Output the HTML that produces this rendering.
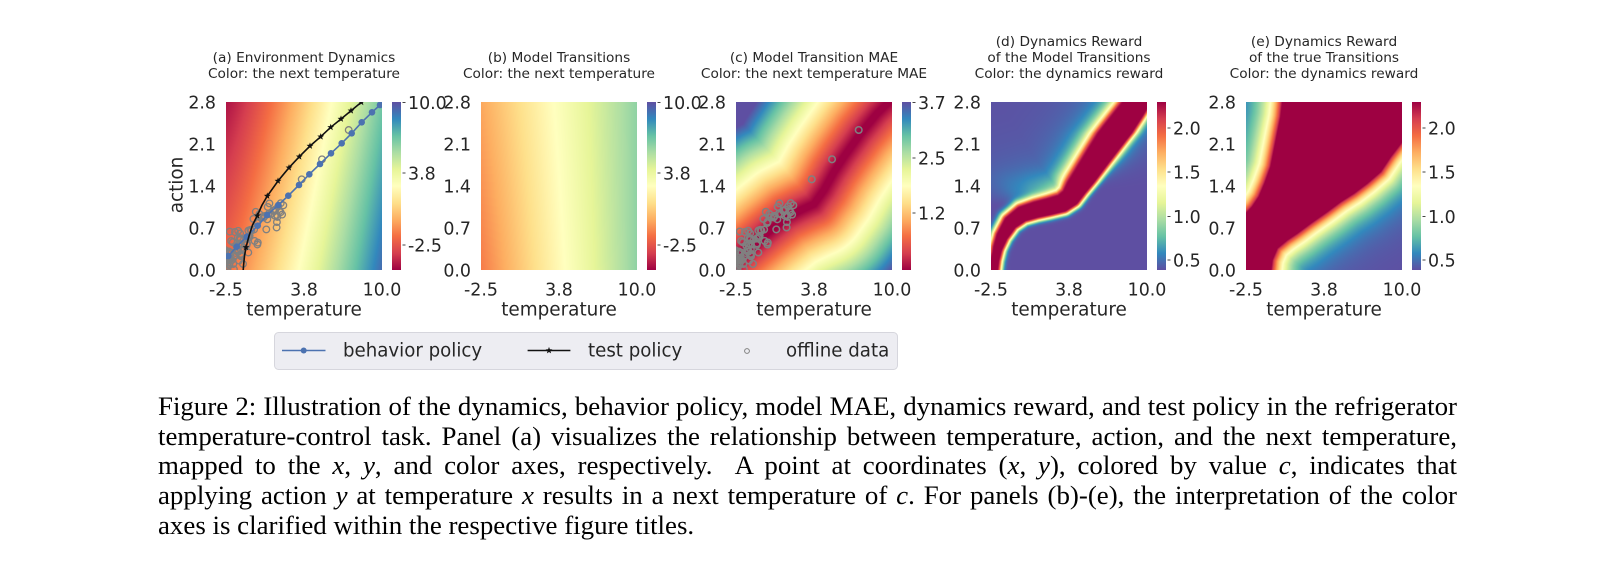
<!DOCTYPE html>
<html>
<head>
<meta charset="utf-8">
<style>
html,body{margin:0;padding:0;background:#fff;}
body{width:1618px;height:563px;position:relative;overflow:hidden;}
canvas.hm{position:absolute;top:102px;width:156px;height:168px;}
.cb{position:absolute;top:102px;width:8.5px;height:168px;}
.cbs{background:linear-gradient(to top,#9e0142 0%,#d53e4f 10%,#f46d43 20%,#fdae61 30%,#fee08b 40%,#ffffbf 50%,#e6f598 60%,#abdda4 70%,#66c2a5 80%,#3288bd 90%,#5e4fa2 100%);}
.cbr{background:linear-gradient(to bottom,#9e0142 0%,#d53e4f 10%,#f46d43 20%,#fdae61 30%,#fee08b 40%,#ffffbf 50%,#e6f598 60%,#abdda4 70%,#66c2a5 80%,#3288bd 90%,#5e4fa2 100%);}
svg.main{position:absolute;left:0;top:0;}
.cap{position:absolute;left:158px;width:1299px;height:29.6px;font-family:"Liberation Serif","Times New Roman",serif;font-size:26.9px;line-height:29.6px;color:#000;white-space:nowrap;}
.j{text-align:justify;text-align-last:justify;}
</style>
</head>
<body>

<canvas id="ca" class="hm" width="312" height="336" style="left:226px;background:linear-gradient(100deg,#b4194a 0%,#f46d43 20%,#fdae61 35%,#ffffbf 55%,#abdda4 75%,#3288bd 95%);"></canvas>
<canvas id="cbb" class="hm" width="312" height="336" style="left:481px;background:linear-gradient(to right,#f47a4a,#fdc070 30%,#ffffbf 48%,#e6f598 60%,#88cfa4 100%);"></canvas>
<canvas id="cc" class="hm" width="312" height="336" style="left:736px;background:linear-gradient(135deg,#5e4fa2 0%,#abdda4 20%,#fdae61 38%,#9e0142 50%,#fdae61 62%,#abdda4 80%,#5e4fa2 100%);"></canvas>
<canvas id="cd" class="hm" width="312" height="336" style="left:991px;background:linear-gradient(135deg,#5e4fa2 38%,#9e0142 47%,#9e0142 53%,#5e4fa2 62%);"></canvas>
<canvas id="ce" class="hm" width="312" height="336" style="left:1246px;background:linear-gradient(135deg,#66c2a5 0%,#9e0142 20%,#9e0142 55%,#5e4fa2 85%);"></canvas>

<div class="cb cbs" style="left:392px;"></div>
<div class="cb cbs" style="left:647px;"></div>
<div class="cb cbs" style="left:902px;"></div>
<div class="cb cbr" style="left:1157px;"></div>
<div class="cb cbr" style="left:1412px;"></div>

<svg class="main" width="1618" height="563" viewBox="0 0 1618 563" xmlns="http://www.w3.org/2000/svg">
  <defs>
    <clipPath id="clipA"><rect x="226" y="102" width="156" height="168"/></clipPath>
    <clipPath id="clipC"><rect x="736" y="102" width="156" height="168"/></clipPath>
    <path id="star" d="M0,-3.6L0.88,-1.21L3.42,-1.11L1.43,0.46L2.12,2.91L0,1.5L-2.12,2.91L-1.43,0.46L-3.42,-1.11L-0.88,-1.21Z"/>
  </defs>

  <g font-family="'DejaVu Sans', 'Liberation Sans', sans-serif" fill="#262626">
    <!-- Titles -->
    <g font-size="13.7" text-anchor="middle">
      <text x="304" y="62">(a) Environment Dynamics</text>
      <text x="304" y="78">Color: the next temperature</text>
      <text x="559" y="62">(b) Model Transitions</text>
      <text x="559" y="78">Color: the next temperature</text>
      <text x="814" y="62">(c) Model Transition MAE</text>
      <text x="814" y="78">Color: the next temperature MAE</text>
      <text x="1069" y="46">(d) Dynamics Reward</text>
      <text x="1069" y="62">of the Model Transitions</text>
      <text x="1069" y="78">Color: the dynamics reward</text>
      <text x="1324" y="46">(e) Dynamics Reward</text>
      <text x="1324" y="62">of the true Transitions</text>
      <text x="1324" y="78">Color: the dynamics reward</text>
    </g>

    <!-- Y tick labels -->
    <g font-size="17.4" text-anchor="end">
      <text x="216" y="108.3">2.8</text><text x="216" y="150.3">2.1</text><text x="216" y="192.3">1.4</text><text x="216" y="234.3">0.7</text><text x="216" y="276.3">0.0</text>
      <text x="471" y="108.3">2.8</text><text x="471" y="150.3">2.1</text><text x="471" y="192.3">1.4</text><text x="471" y="234.3">0.7</text><text x="471" y="276.3">0.0</text>
      <text x="726" y="108.3">2.8</text><text x="726" y="150.3">2.1</text><text x="726" y="192.3">1.4</text><text x="726" y="234.3">0.7</text><text x="726" y="276.3">0.0</text>
      <text x="981" y="108.3">2.8</text><text x="981" y="150.3">2.1</text><text x="981" y="192.3">1.4</text><text x="981" y="234.3">0.7</text><text x="981" y="276.3">0.0</text>
      <text x="1236" y="108.3">2.8</text><text x="1236" y="150.3">2.1</text><text x="1236" y="192.3">1.4</text><text x="1236" y="234.3">0.7</text><text x="1236" y="276.3">0.0</text>
    </g>

    <!-- X tick labels -->
    <g font-size="17.4" text-anchor="middle">
      <text x="226" y="295.3">-2.5</text><text x="304" y="295.3">3.8</text><text x="382" y="295.3">10.0</text>
      <text x="481" y="295.3">-2.5</text><text x="559" y="295.3">3.8</text><text x="637" y="295.3">10.0</text>
      <text x="736" y="295.3">-2.5</text><text x="814" y="295.3">3.8</text><text x="892" y="295.3">10.0</text>
      <text x="991" y="295.3">-2.5</text><text x="1069" y="295.3">3.8</text><text x="1147" y="295.3">10.0</text>
      <text x="1246" y="295.3">-2.5</text><text x="1324" y="295.3">3.8</text><text x="1402" y="295.3">10.0</text>
    </g>

    <!-- Axis labels -->
    <g font-size="18.4" text-anchor="middle">
      <text x="304" y="315.7">temperature</text>
      <text x="559" y="315.7">temperature</text>
      <text x="814" y="315.7">temperature</text>
      <text x="1069" y="315.7">temperature</text>
      <text x="1324" y="315.7">temperature</text>
      <text transform="translate(182.7,185) rotate(-90)">action</text>
    </g>

    <!-- Colorbar ticks -->
    <g stroke="#444" stroke-width="1">
      <line x1="402.5" y1="102.5" x2="405.5" y2="102.5"/><line x1="402.5" y1="173" x2="405.5" y2="173"/><line x1="402.5" y1="245" x2="405.5" y2="245"/>
      <line x1="657.5" y1="102.5" x2="660.5" y2="102.5"/><line x1="657.5" y1="173" x2="660.5" y2="173"/><line x1="657.5" y1="245" x2="660.5" y2="245"/>
      <line x1="912.5" y1="102.5" x2="915.5" y2="102.5"/><line x1="912.5" y1="158" x2="915.5" y2="158"/><line x1="912.5" y1="213" x2="915.5" y2="213"/>
      <line x1="1167.5" y1="128" x2="1170.5" y2="128"/><line x1="1167.5" y1="172" x2="1170.5" y2="172"/><line x1="1167.5" y1="216.5" x2="1170.5" y2="216.5"/><line x1="1167.5" y1="260" x2="1170.5" y2="260"/>
      <line x1="1422.5" y1="128" x2="1425.5" y2="128"/><line x1="1422.5" y1="172" x2="1425.5" y2="172"/><line x1="1422.5" y1="216.5" x2="1425.5" y2="216.5"/><line x1="1422.5" y1="260" x2="1425.5" y2="260"/>
    </g>
    <g font-size="17.4">
      <text x="408" y="108.8">10.0</text><text x="408" y="179.3">3.8</text><text x="408" y="251.3">-2.5</text>
      <text x="663" y="108.8">10.0</text><text x="663" y="179.3">3.8</text><text x="663" y="251.3">-2.5</text>
      <text x="918" y="108.8">3.7</text><text x="918" y="164.3">2.5</text><text x="918" y="219.3">1.2</text>
      <text x="1173" y="134.3">2.0</text><text x="1173" y="178.3">1.5</text><text x="1173" y="222.8">1.0</text><text x="1173" y="266.3">0.5</text>
      <text x="1428" y="134.3">2.0</text><text x="1428" y="178.3">1.5</text><text x="1428" y="222.8">1.0</text><text x="1428" y="266.3">0.5</text>
    </g>
  </g>

  <!-- Panel (a) scatter + policies -->
  <g clip-path="url(#clipA)">
    <g id="ptsA" transform="translate(226,102)" fill="none" stroke="#808080" stroke-width="1.3"></g>
    <polyline fill="none" stroke="#4c72b0" stroke-width="1.6"
      points="224,260.5 228.3,256 236.7,246.7 246.7,236.7 257.7,225.7 267.3,215 278.3,205 288.3,195.7 299,185 309.3,174.3 320,164 331,153.3 341.7,143.3 351.7,133.3 361.7,122.3 372,112.3 380,105 386,99"/>
    <g fill="#4c72b0">
      <circle cx="228.3" cy="256" r="3.3"/><circle cx="236.7" cy="246.7" r="3.3"/><circle cx="246.7" cy="236.7" r="3.3"/><circle cx="257.7" cy="225.7" r="3.3"/><circle cx="267.3" cy="215" r="3.3"/><circle cx="278.3" cy="205" r="3.3"/><circle cx="288.3" cy="195.7" r="3.3"/><circle cx="299" cy="185" r="3.3"/><circle cx="309.3" cy="174.3" r="3.3"/><circle cx="320" cy="164" r="3.3"/><circle cx="331" cy="153.3" r="3.3"/><circle cx="341.7" cy="143.3" r="3.3"/><circle cx="351.7" cy="133.3" r="3.3"/><circle cx="361.7" cy="122.3" r="3.3"/><circle cx="372" cy="112.3" r="3.3"/><circle cx="380" cy="105" r="3.3"/>
    </g>
    <polyline fill="none" stroke="#111" stroke-width="1.6"
      points="243,273 243.6,265 244.5,256 246,247.3 249,236 252.5,225 257.3,215.7 261.8,205.5 267.3,196 278,181 289,167.7 299.3,156.7 310,146 320.7,136.7 330.7,127.3 341,119 351,110.7 361.3,102.3 365,99.5 372,94"/>
    <g fill="#111">
      <use href="#star" x="246" y="247.3"/><use href="#star" x="257.3" y="215.7"/><use href="#star" x="267.3" y="196"/><use href="#star" x="278" y="181"/><use href="#star" x="289" y="167.7"/><use href="#star" x="299.3" y="156.7"/><use href="#star" x="310" y="146"/><use href="#star" x="320.7" y="136.7"/><use href="#star" x="330.7" y="127.3"/><use href="#star" x="341" y="119"/><use href="#star" x="351" y="110.7"/><use href="#star" x="361.3" y="102.3"/>
    </g>
  </g>

  <!-- Panel (c) scatter -->
  <g clip-path="url(#clipC)">
    <g id="ptsC" transform="translate(736,102)" fill="none" stroke="#808080" stroke-width="1.5"></g>
  </g>

  <!-- Legend -->
  <rect x="274.5" y="332.5" width="623" height="37" rx="4" ry="4" fill="#ededf2" stroke="#d6d6dd" stroke-width="1"/>
  <line x1="282" y1="350.5" x2="325.5" y2="350.5" stroke="#4c72b0" stroke-width="1.6"/>
  <circle cx="303.7" cy="350.5" r="3" fill="#4c72b0"/>
  <line x1="527.6" y1="350.5" x2="570.4" y2="350.5" stroke="#111" stroke-width="1.6"/>
  <use href="#star" x="549" y="350.5" fill="#111"/>
  <circle cx="747" cy="351" r="2.4" fill="none" stroke="#808080" stroke-width="1"/>
  <g font-family="'DejaVu Sans', 'Liberation Sans', sans-serif" font-size="18.2" fill="#262626">
    <text x="343" y="356.5">behavior policy</text>
    <text x="588" y="356.5">test policy</text>
    <text x="786" y="356.5">offline data</text>
  </g>
</svg>

<div class="cap j" style="top:392.1px;">Figure 2: Illustration of the dynamics, behavior policy, model MAE, dynamics reward, and test policy in the refrigerator</div>
<div class="cap j" style="top:421.7px;">temperature-control task. Panel (a) visualizes the relationship between temperature, action, and the next temperature,</div>
<div class="cap j" style="top:451.3px;">mapped to the <i>x</i>, <i>y</i>, and color axes, respectively.&nbsp; A point at coordinates (<i>x</i>, <i>y</i>), colored by value <i>c</i>, indicates that</div>
<div class="cap j" style="top:480.9px;">applying action <i>y</i> at temperature <i>x</i> results in a next temperature of <i>c</i>. For panels (b)-(e), the interpretation of the color</div>
<div class="cap" style="top:510.5px;">axes is clarified within the respective figure titles.</div>

<script>
(function(){
  var SP=[[158,1,66],[213,62,79],[244,109,67],[253,174,97],[254,224,139],[255,255,191],[230,245,152],[171,221,164],[102,194,165],[50,136,189],[94,79,162]];
  function spec(n){
    if(!(n>0)) n=0; if(n>1) n=1;
    var f=n*10, i=Math.floor(f); if(i>9) i=9;
    var t=f-i, a=SP[i], b=SP[i+1];
    return [a[0]+(b[0]-a[0])*t, a[1]+(b[1]-a[1])*t, a[2]+(b[2]-a[2])*t];
  }
  function clamp(x){return x<0?0:(x>1?1:x);}
  function smooth(e0,e1,x){var t=clamp((x-e0)/(e1-e0));return t*t*(3-2*t);}
  function interp(arr,x){
    if(x<=arr[0][0]) return arr[0][1];
    for(var k=0;k<arr.length-1;k++){
      if(x<=arr[k+1][0]){var t=(x-arr[k][0])/(arr[k+1][0]-arr[k][0]);return arr[k][1]+t*(arr[k+1][1]-arr[k][1]);}
    }
    return arr[arr.length-1][1];
  }
  function pdist(px,py,P){
    var best=1e9,sg=0;
    for(var k=0;k<P.length-1;k++){
      var ax=P[k][0],ay=P[k][1],bx=P[k+1][0],by=P[k+1][1];
      var dx=bx-ax,dy=by-ay,L=dx*dx+dy*dy;
      var t=((px-ax)*dx+(py-ay)*dy)/L; if(t<0)t=0; if(t>1)t=1;
      var qx=ax+t*dx-px,qy=ay+t*dy-py,d=Math.sqrt(qx*qx+qy*qy);
      if(d<best){best=d;sg=dx*(py-ay)-dy*(px-ax);}
    }
    return [best,sg];
  }
  function paint(id,fn){
    var c=document.getElementById(id); if(!c||!c.getContext) return;
    var W=c.width,H=c.height,ctx=c.getContext('2d');
    var img=ctx.createImageData(W,H),sx=156/W,sy=168/H;
    for(var j=0;j<H;j++){for(var i=0;i<W;i++){
      var col=spec(fn((i+0.5)*sx,(j+0.5)*sy));
      var k=(j*W+i)*4; img.data[k]=col[0];img.data[k+1]=col[1];img.data[k+2]=col[2];img.data[k+3]=255;
    }}
    ctx.putImageData(img,0,0);
  }
  // (a)
  paint('ca',function(px,py){var fx=px/156,fy=1-py/168;return 0.2+0.75*Math.pow(fx,1.2)-0.17*fy;});
  // (b)
  paint('cbb',function(px,py){var fx=px/156,fy=1-py/168;return 0.22+0.07*fy*(1-fx)+0.52*fx;});
  // (c)
  var PC=[[-3,162],[3,155],[31,131],[51,115],[65,108],[78,102],[88,88],[98,70],[108,54.7],[124.7,31.3],[141.3,11.3],[153,0],[160,-8]];
  paint('cc',function(px,py){var r=pdist(px,py,PC);return (r[0]-3)/100;});
  // (d)
  var PD=[[2.5,175],[2.7,168],[4,158],[7,146],[11.3,134.7],[19.7,121.3],[31.3,112.7],[45,108.5],[58,105.5],[71.3,102],[79.7,96],[86,86],[93,76],[108,54],[124,31],[140.5,8],[146,0],[152,-10]];
  var HD=[[0,11],[31,12.9],[80,10],[105,7.3],[120,6],[150,3.3],[175,3.3]];
  paint('cd',function(px,py){
    var r=pdist(px,py,PD),h=interp(HD,py),e=r[0]-h,n;
    if(e<=0) n=1;
    else{
      var g,l,w;
      if(r[1]<0){g=Math.exp(-(e/6)*(e/6));l=1/(1+(e/8)*(e/8));w=smooth(105,70,py);}
      else{g=Math.exp(-(e/5)*(e/5));l=1/(1+(e/5)*(e/5));w=0.6*smooth(90,50,py);}
      n=(1-w)*g+w*l;
    }
    return 1-n;
  });
  // (e)
  var B1=[[37.5,-10],[36.3,0],[34.7,14.7],[31.3,31.3],[28,48],[24.7,64.7],[18.7,81.3],[13,94.7],[6.3,104.7],[0,111.3],[-8.7,121.3],[-20,133]];
  var B1y=B1.map(function(p){return [p[1],p[0]];});
  var B2=[[22,185],[24.7,171.3],[26.3,158],[31.3,146.3],[41.3,138],[51.3,131.3],[64.7,121.3],[81.3,109.7],[94.7,99.7],[108,91.3],[121.3,81.3],[134.7,69.7],[144.7,54.7],[155,41.3],[165,30]];
  paint('ce',function(px,py){
    var n=1;
    if(px<interp(B1y,py)){n=Math.exp(-pdist(px,py,B1)[0]/17);}
    else if(py>interp(B2,px)){n=Math.exp(-pdist(px,py,B2)[0]/16);}
    return 1-n;
  });

  // offline data points
  var seed=12345;
  function rnd(){seed=(seed*16807)%2147483647;return (seed-1)/2147483646;}
  function gauss(){return Math.sqrt(-2*Math.log(rnd()+1e-9))*Math.cos(2*Math.PI*rnd());}
  var pts=[];
  for(var i=0;i<95;i++){
    var t=58*Math.pow(rnd(),1.7);
    var rx=t+gauss()*3.5, ry=157-t+gauss()*9;
    if(ry<170&&rx>-3) pts.push([rx,ry]);
  }
  pts.push([75.7,77.3],[96,57.3],[122.7,28]);
  var NS='http://www.w3.org/2000/svg';
  ['ptsA','ptsC'].forEach(function(id){
    var g=document.getElementById(id); if(!g) return;
    pts.forEach(function(p){
      var c=document.createElementNS(NS,'circle');
      c.setAttribute('cx',p[0].toFixed(1));c.setAttribute('cy',p[1].toFixed(1));c.setAttribute('r','3.3');
      g.appendChild(c);
    });
  });
})();
</script>
</body>
</html>
